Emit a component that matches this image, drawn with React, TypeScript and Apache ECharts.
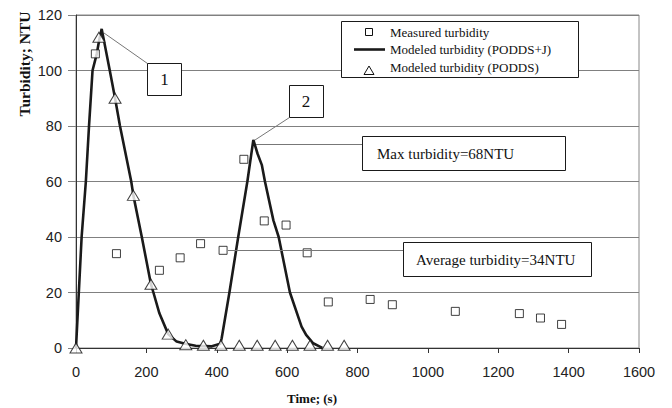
import React, { useEffect, useRef } from "react";
import * as echarts from "echarts";

// Measured turbidity (squares)
const timeMeasured = [55, 115, 237, 296, 354, 418, 477, 535, 597, 657, 717, 836, 899, 1078, 1260, 1320, 1380];
const turbMeasured = [106, 34, 28, 32.5, 37.6, 35.2, 68, 45.8, 44.3, 34.3, 16.6, 17.5, 15.6, 13.2, 12.4, 10.8, 8.5];

// Modeled turbidity (PODDS+J) line
const timeModelJ = [0, 8, 16, 28, 37, 47, 59, 66, 73, 96, 111, 125, 157, 163, 187, 213, 220, 237, 262, 286, 310, 340, 386, 410, 414, 436, 461, 487, 504, 516, 528, 537, 561, 576, 608, 641, 654, 674, 693, 700];
const turbModelJ = [0, 20, 40, 60, 80, 100, 106, 111, 115, 100, 90, 80, 60, 55, 40, 23, 20, 12.5, 5, 2.3, 1.5, 0.8, 0.6, 1.5, 3.5, 20, 40, 60, 75, 70, 66, 60, 46, 40, 20, 7.7, 4.7, 1.7, 0.5, 0];

// Modeled turbidity (PODDS) triangles
const timePodds = [0, 65, 111, 163, 213, 262, 312, 362, 412, 464, 515, 566, 615, 665, 715, 762];
const turbPodds = [0, 112, 90, 55, 23, 5, 1.2, 1, 1, 1, 1, 1, 1, 1, 1, 1];

// Axis ticks
const xTicks = { min: 0, max: 1600, interval: 200 };
const yTicks = { min: 0, max: 120, interval: 20 };

const legendLabels = [
  "Measured turbidity",
  "Modeled turbidity (PODDS+J)",
  "Modeled turbidity (PODDS)",
];
const annotationTexts = ["1", "2", "Max turbidity=68NTU", "Average turbidity=34NTU"];

const serif = "'Liberation Serif', 'Times New Roman', serif";
const sans = "'Liberation Sans', Arial, sans-serif";

export default function App() {
  const ref = useRef<HTMLDivElement>(null);
  useEffect(() => {
    if (!ref.current) return;
    const chart = echarts.init(ref.current, undefined, { renderer: "svg" });
    const zip = (xs: number[], ys: number[]) => xs.map((x, i) => [x, ys[i]]);
    const Z = 100;
    const box = (x: number, y: number, w: number, h: number) => ({
      type: "rect",
      z: Z,
      shape: { x: x + 0.5, y: y + 0.5, width: w, height: h },
      style: { fill: "#fff", stroke: "#1a1a1a", lineWidth: 1 },
    });
    const lead = (x1: number, y1: number, x2: number, y2: number) => ({
      type: "line",
      z: Z - 1,
      shape: { x1, y1, x2, y2 },
      style: { stroke: "#777", lineWidth: 1 },
    });
    const txt = (x: number, y: number, text: string, size: number, align = "left", weight = "normal") => ({
      type: "text",
      z: Z + 1,
      x,
      y,
      style: {
        text,
        fill: "#111",
        fontFamily: serif,
        fontSize: size,
        fontWeight: weight,
        textAlign: align,
        textVerticalAlign: "middle",
      },
    });

    chart.setOption({
      animation: false,
      backgroundColor: "#fff",
      grid: {
        left: 76,
        right: 33,
        top: 15,
        bottom: 60,
        show: true,
        borderColor: "#888",
        borderWidth: 1,
      },
      xAxis: {
        type: "value",
        min: xTicks.min,
        max: xTicks.max,
        interval: xTicks.interval,
        axisLine: { show: true, lineStyle: { color: "#333", width: 1 } },
        axisTick: { show: true, length: 5, lineStyle: { color: "#333" } },
        splitLine: { show: false },
        axisLabel: {
          fontFamily: sans,
          fontSize: 14.5,
          color: "#222",
          margin: 16,
          formatter: (v: number) => String(v),
        },
      },
      yAxis: {
        type: "value",
        min: yTicks.min,
        max: yTicks.max,
        interval: yTicks.interval,
        axisLine: { show: true, lineStyle: { color: "#333", width: 1 } },
        axisTick: { show: true, length: 8, lineStyle: { color: "#808080" } },
        splitLine: { show: true, lineStyle: { color: "#808080", width: 1 } },
        axisLabel: {
          fontFamily: sans,
          fontSize: 14.5,
          color: "#222",
          margin: 14,
          formatter: (v: number) => String(v),
        },
      },
      series: [
        {
          name: legendLabels[1],
          type: "line",
          data: zip(timeModelJ, turbModelJ),
          showSymbol: false,
          symbol: "none",
          lineStyle: { color: "#1a1a1a", width: 2.6 },
          z: 2,
        },
        {
          name: legendLabels[0],
          type: "scatter",
          data: zip(timeMeasured, turbMeasured),
          symbol: "rect",
          symbolSize: 8,
          itemStyle: { color: "#fff", borderColor: "#111", borderWidth: 1 },
          z: 3,
        },
        {
          name: legendLabels[2],
          type: "scatter",
          data: zip(timePodds, turbPodds),
          symbol: "triangle",
          symbolSize: [12, 10],
          itemStyle: { color: "#fff", borderColor: "#111", borderWidth: 1 },
          z: 4,
        },
      ],
      graphic: [
        // axis titles
        {
          type: "text",
          z: Z,
          x: 24,
          y: 64,
          rotation: Math.PI / 2,
          style: {
            text: "Turbidity; NTU",
            fill: "#111",
            fontFamily: serif,
            fontSize: 15.5,
            fontWeight: "bold",
            textAlign: "center",
            textVerticalAlign: "middle",
          },
        },
        txt(312, 398, "Time; (s)", 13, "center", "bold"),
        // legend
        box(341, 21, 237, 56),
        {
          type: "rect",
          z: Z + 1,
          shape: { x: 365.5, y: 28.5, width: 7, height: 7 },
          style: { fill: "#fff", stroke: "#111", lineWidth: 1 },
        },
        {
          type: "line",
          z: Z + 1,
          shape: { x1: 354, y1: 49.5, x2: 385, y2: 49.5 },
          style: { stroke: "#1a1a1a", lineWidth: 2.6 },
        },
        {
          type: "polygon",
          z: Z + 1,
          shape: { points: [[369, 66], [364, 74.5], [374, 74.5]] },
          style: { fill: "#fff", stroke: "#111", lineWidth: 1 },
        },
        txt(390, 32, legendLabels[0], 13),
        txt(390, 49.5, legendLabels[1], 13),
        txt(390, 67.5, legendLabels[2], 13),
        // annotation 1
        lead(104, 33, 147.5, 63.5),
        box(147, 63, 34, 32),
        txt(164.5, 79.5, annotationTexts[0], 17, "center"),
        // annotation 2
        lead(255, 140, 289.5, 117.5),
        box(289, 85, 34, 32),
        txt(306, 101.5, annotationTexts[1], 17, "center"),
        // max turbidity
        lead(256, 144.5, 362, 144.5),
        box(362, 136, 203, 34),
        txt(377, 154, annotationTexts[2], 15),
        // average turbidity
        lead(228, 250.5, 403, 250.5),
        box(403, 242, 188, 34),
        txt(416, 260, annotationTexts[3], 15),
      ],
    });
    return () => chart.dispose();
  }, []);
  return (
    <div
      ref={ref}
      style={{ position: "fixed", left: 0, top: 0, width: 672, height: 408, background: "#fff" }}
    />
  );
}
